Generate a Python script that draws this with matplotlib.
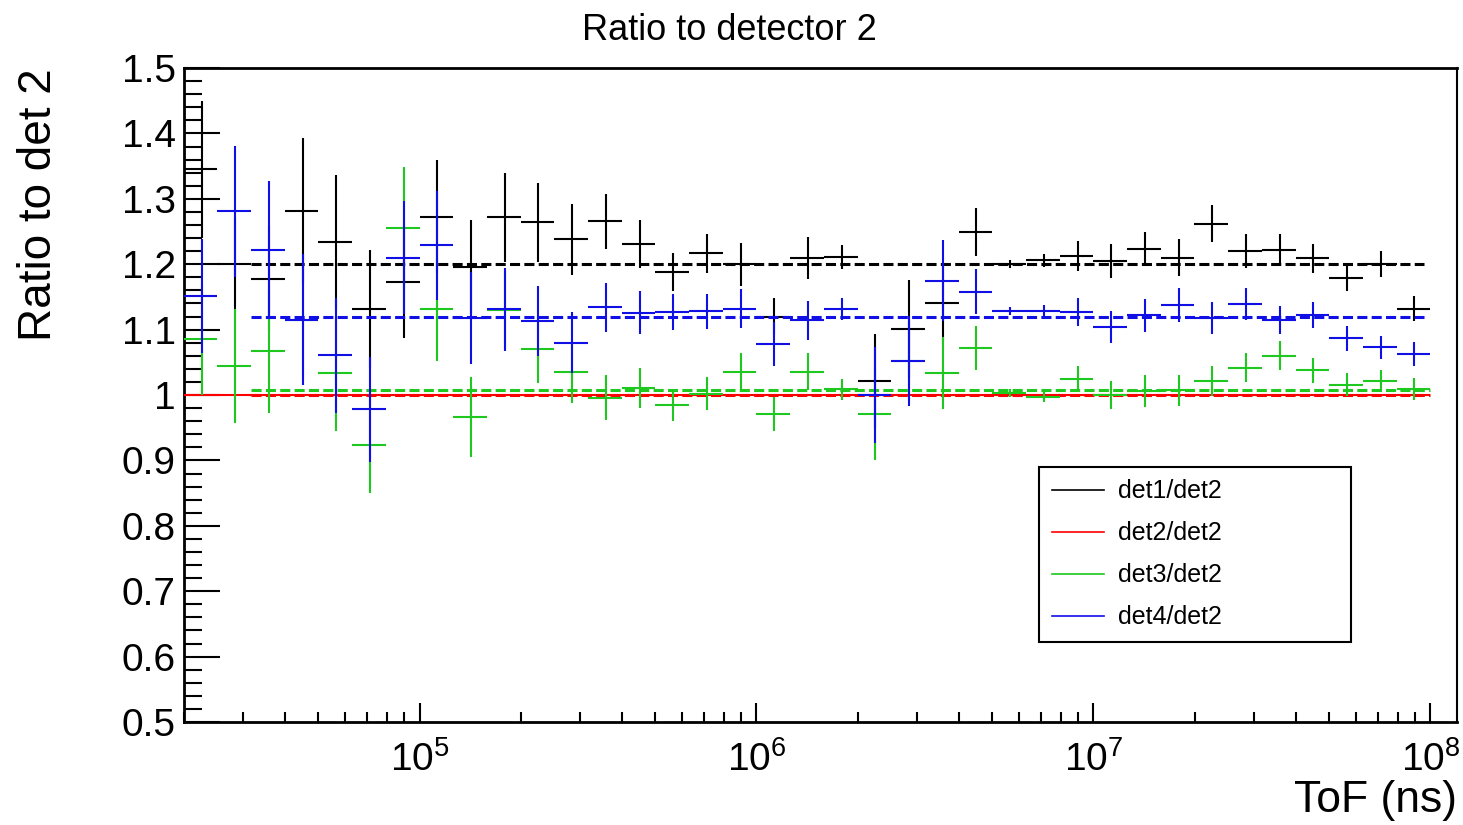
"""Ratio of each detector's ToF spectrum to detector 2 (ROOT-style look)."""

import matplotlib

matplotlib.use("Agg")

import matplotlib.pyplot as plt  # noqa: E402
import numpy as np  # noqa: E402
from matplotlib.lines import Line2D  # noqa: E402
from matplotlib.ticker import FixedLocator, FixedFormatter, LogLocator, NullFormatter  # noqa: E402

plt.rcParams["font.family"] = ["Liberation Sans", "DejaVu Sans"]
plt.rcParams["mathtext.fontset"] = "custom"
plt.rcParams["mathtext.rm"] = "Liberation Sans"

BLACK = "#000000"
RED = "#ff0000"
GREEN = "#1ec81e"
BLUE = "#1010e6"

# histogram binning: 10 log bins per decade, 10^4.3 .. 10^8
edges = np.logspace(4.3, 8.0, 38)

det1 = [1.345, 1.200, 1.178, 1.282, 1.234, 1.132, 1.173, 1.273, 1.196, 1.272,
        1.264, 1.238, 1.266, 1.231, 1.188, 1.217, 1.200, 1.120, 1.209, 1.211,
        1.021, 1.101, 1.141, 1.249, 1.200, 1.206, 1.212, 1.205, 1.224, 1.210,
        1.262, 1.221, 1.222, 1.209, 1.179, 1.200, 1.132]
det1_err = [0.105, 0.070, 0.080, 0.111, 0.102, 0.090, 0.086, 0.086, 0.072, 0.068,
            0.060, 0.054, 0.042, 0.036, 0.029, 0.030, 0.033, 0.028, 0.032, 0.018,
            0.072, 0.075, 0.060, 0.037, 0.006, 0.010, 0.023, 0.026, 0.026, 0.028,
            0.028, 0.026, 0.024, 0.022, 0.020, 0.020, 0.019]

det3 = [1.085, 1.044, 1.067, 1.115, 1.033, 0.924, 1.256, 1.131, 0.967, 1.130,
        1.070, 1.035, 0.996, 1.011, 0.985, 1.002, 1.036, 0.971, 1.036, 1.009,
        0.971, 1.052, 1.034, 1.072, 1.003, 0.997, 1.025, 1.000, 1.006, 1.007,
        1.021, 1.042, 1.060, 1.038, 1.016, 1.021, 1.009]
det3_err = [0.085, 0.087, 0.094, 0.090, 0.088, 0.074, 0.092, 0.079, 0.061, 0.060,
            0.051, 0.047, 0.034, 0.031, 0.025, 0.025, 0.029, 0.026, 0.029, 0.016,
            0.070, 0.060, 0.055, 0.033, 0.006, 0.008, 0.020, 0.022, 0.024, 0.024,
            0.023, 0.022, 0.022, 0.019, 0.018, 0.017, 0.017]

det4 = [1.151, 1.281, 1.222, 1.115, 1.061, 0.978, 1.210, 1.229, 1.118, 1.131,
        1.113, 1.080, 1.134, 1.126, 1.127, 1.128, 1.132, 1.078, 1.114, 1.132,
        1.000, 1.052, 1.175, 1.158, 1.129, 1.128, 1.127, 1.104, 1.122, 1.138,
        1.118, 1.139, 1.115, 1.123, 1.087, 1.073, 1.063]
det4_err = [0.087, 0.100, 0.105, 0.100, 0.088, 0.080, 0.086, 0.083, 0.070, 0.063,
            0.053, 0.047, 0.037, 0.033, 0.028, 0.027, 0.030, 0.034, 0.030, 0.017,
            0.073, 0.069, 0.062, 0.034, 0.006, 0.010, 0.021, 0.025, 0.025, 0.026,
            0.024, 0.025, 0.021, 0.020, 0.019, 0.018, 0.018]

# constant fits (value, xmin, xmax)
fit_det1 = (1.200, 10 ** 4.5, 10 ** 7.98)
fit_det2 = (1.000, 10 ** 4.5, 1e8)
fit_det3 = (1.008, 10 ** 4.5, 1e8)
fit_det4 = (1.120, 10 ** 4.5, 10 ** 7.98)

labels = ["det1/det2", "det2/det2", "det3/det2", "det4/det2"]
yticks = [0.5, 0.6, 0.7, 0.8, 0.9, 1.0, 1.1, 1.2, 1.3, 1.4, 1.5]
ytick_labels = ["0.5", "0.6", "0.7", "0.8", "0.9", "1", "1.1", "1.2", "1.3", "1.4", "1.5"]
xticks = [1e5, 1e6, 1e7, 1e8]
xtick_labels = [r"$\mathregular{10^{5}}$", r"$\mathregular{10^{6}}$",
                r"$\mathregular{10^{7}}$", r"$\mathregular{10^{8}}$"]

lo = edges[:-1]
hi = edges[1:]
centers = 0.5 * (lo + hi)
xerr = [centers - lo, hi - centers]
det2 = np.ones_like(centers)

fig = plt.figure(figsize=(14.63, 8.25), dpi=100)
ax = fig.add_axes([0.1258, 0.1248, 0.8701, 0.7927])
ax.set_xscale("log")


def _hist(ax, y, yerr, color, z):
    ax.errorbar(centers, y, xerr=xerr, yerr=yerr, fmt="none", ecolor=color,
                elinewidth=1.5, capsize=0, zorder=z)


def _fit(ax, fit, color, z):
    val, x0, x1 = fit
    ax.hlines(val, x0, x1, colors=color, linewidth=2.2,
              linestyles=(0, (3.3, 1.4)), zorder=z)


_hist(ax, det1, det1_err, BLACK, 2)
_fit(ax, fit_det1, BLACK, 2.1)
_hist(ax, det2, np.zeros_like(det2), RED, 3)
_fit(ax, fit_det2, RED, 3.1)
_hist(ax, det3, det3_err, GREEN, 4)
_fit(ax, fit_det3, GREEN, 4.1)
_hist(ax, det4, det4_err, BLUE, 5)
_fit(ax, fit_det4, BLUE, 5.1)

ax.set_xlim(2e4, 1.2e8)
ax.set_ylim(0.5, 1.5)

ax.yaxis.set_major_locator(FixedLocator(yticks))
ax.yaxis.set_major_formatter(FixedFormatter(ytick_labels))
ax.yaxis.set_minor_locator(FixedLocator(np.round(np.arange(0.5, 1.501, 0.02), 3)))
ax.xaxis.set_major_locator(FixedLocator(xticks))
ax.xaxis.set_major_formatter(FixedFormatter(xtick_labels))
ax.xaxis.set_minor_locator(LogLocator(base=10, subs=np.arange(2, 10)))
ax.xaxis.set_minor_formatter(NullFormatter())

ax.tick_params(axis="both", which="both", direction="in", top=False, right=False,
               width=1.5, color="black")
ax.tick_params(axis="y", which="major", length=26, labelsize=28, pad=6)
ax.tick_params(axis="y", which="minor", length=13)
ax.tick_params(axis="x", which="major", length=14, labelsize=28, pad=14)
ax.tick_params(axis="x", which="minor", length=7)

for side in ["left", "top", "bottom"]:
    ax.spines[side].set_linewidth(2.0)
ax.spines["right"].set_linewidth(1.5)

ax.set_xlabel("ToF (ns)", fontsize=32, loc="right")
ax.xaxis.set_label_coords(1.0, -0.088)
ax.set_ylabel("Ratio to det 2", fontsize=33, loc="top")
ax.yaxis.set_label_coords(-0.097, 1.0)

fig.text(0.4983, 0.9636, "Ratio to detector 2", fontsize=26, ha="center", va="center")

handles = [Line2D([], [], color=c, linewidth=1.2) for c in (BLACK, RED, GREEN, BLUE)]
leg = ax.legend(handles, labels, loc="upper left",
                bbox_to_anchor=(0.6717, 0.0, 0.245, 0.390), mode="expand",
                fontsize=18, frameon=True, fancybox=False, edgecolor="black",
                framealpha=1, borderpad=0.5, labelspacing=0.72,
                handlelength=2.1, handletextpad=0.55, borderaxespad=0)
leg.get_frame().set_linewidth(1.5)

fig.savefig("out.png", dpi=100)
